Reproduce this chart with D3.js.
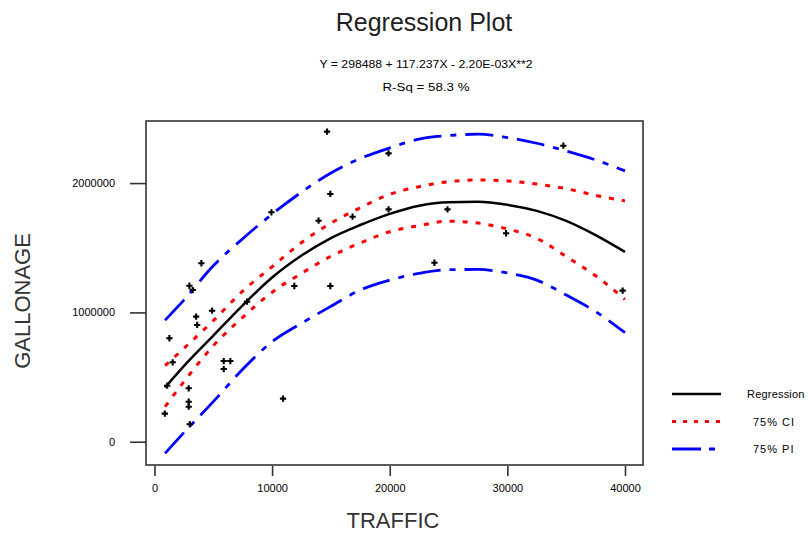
<!DOCTYPE html>
<html>
<head>
<meta charset="utf-8">
<script src="https://cdnjs.cloudflare.com/ajax/libs/d3/7.8.5/d3.min.js"></script>
<style>
body { margin: 0; background: #fff; }
svg { display: block; font-family: "Liberation Sans", Arial, sans-serif; }
</style>
</head>
<body>
<svg id="chart"></svg>
<script>
// scatter data (TRAFFIC vs GALLONAGE)
var traffic = [14670, 19900, 34760, 14950, 9940, 13950, 16840, 19900, 24910, 29890, 23800, 39800,
    3990, 2970, 3250, 11890, 14950, 7870, 4900, 3540, 3630, 1270, 1550, 5890, 6450, 5890,
    1080, 2910, 2910, 2910, 880, 3000, 10930];
var gallonage = [2398000, 2230000, 2289000, 1916000, 1774000, 1709000, 1740000, 1797000, 1797000, 1612000, 1384000, 1168000,
    1380000, 1206000, 1173000, 1204000, 1204000, 1083000, 1013000, 967000, 903000, 800000, 614000, 624000, 624000, 562000,
    433000, 413000, 309000, 271000, 217000, 135000, 333000];

// fitted curve and bands
var fitX = [900, 2500, 5000, 7500, 10000, 12500, 15000, 17500, 20000, 22500, 25000, 27500, 30000, 32500, 35000, 37500, 40000];
var fitY = [420000, 585000, 820000, 1055000, 1270000, 1440000, 1575000, 1676000, 1762000, 1825000, 1852000, 1855000, 1832000, 1785000, 1708000, 1598000, 1468000];
var ciUpper = [588000, 722000, 936000, 1165000, 1353000, 1540000, 1690000, 1810000, 1913000, 1972000, 2011000, 2024000, 2016000, 1992000, 1957000, 1905000, 1862000];
var ciLower = [271000, 464000, 742000, 962000, 1155000, 1302000, 1434000, 1537000, 1624000, 1671000, 1705000, 1691000, 1645000, 1573000, 1431000, 1284000, 1100000];
var piUpper = [940000, 1095000, 1360000, 1570000, 1760000, 1930000, 2078000, 2190000, 2272000, 2340000, 2367000, 2378000, 2352000, 2308000, 2248000, 2179000, 2094000];
var piLower = [-90000, 70000, 310000, 560000, 773000, 916000, 1047000, 1173000, 1250000, 1302000, 1330000, 1332000, 1305000, 1250000, 1134000, 1006000, 843000];

var xTicks = [0, 10000, 20000, 30000, 40000];
var yTicks = [0, 1000000, 2000000];
var legendNames = ["Regression", "75% CI", "75% PI"];

var width = 809, height = 533;
var box = {left: 146, right: 643, top: 121, bottom: 465};

var svg = d3.select("#chart")
    .attr("width", width)
    .attr("height", height);

var xScale = d3.scaleLinear().domain([-720, 41530]).range([box.left, box.right]);
var yScale = d3.scaleLinear().domain([-180000, 2480000]).range([box.bottom, box.top]);

// titles
svg.append("text")
    .attr("x", 424).attr("y", 31)
    .attr("text-anchor", "middle")
    .style("font-size", "25px")
    .attr("fill", "#222")
    .text("Regression Plot");

svg.append("text")
    .attr("x", 426).attr("y", 68)
    .attr("text-anchor", "middle")
    .attr("textLength", 213)
    .attr("lengthAdjust", "spacingAndGlyphs")
    .style("font-size", "10px")
    .text("Y = 298488 + 117.237X - 2.20E-03X**2");

svg.append("text")
    .attr("x", 426).attr("y", 91)
    .attr("text-anchor", "middle")
    .attr("textLength", 87)
    .attr("lengthAdjust", "spacingAndGlyphs")
    .style("font-size", "10px")
    .text("R-Sq = 58.3 %");

// frame
svg.append("rect")
    .attr("x", box.left).attr("y", box.top)
    .attr("width", box.right - box.left)
    .attr("height", box.bottom - box.top)
    .attr("fill", "none")
    .attr("stroke", "#333")
    .attr("stroke-width", 1.6);

// axes
var xAxis = svg.append("g")
    .attr("transform", "translate(0," + (box.bottom + 1) + ")")
    .call(d3.axisBottom(xScale).tickValues(xTicks).tickFormat(d3.format("d")).tickSize(10).tickPadding(8));
var yAxis = svg.append("g")
    .attr("transform", "translate(" + box.left + ",0)")
    .call(d3.axisLeft(yScale).tickValues(yTicks).tickFormat(d3.format("d")).tickSize(16).tickPadding(15));
[xAxis, yAxis].forEach(function (g) {
    g.select(".domain").remove();
    g.selectAll(".tick line").attr("stroke", "#333").attr("stroke-width", 1.6);
    g.selectAll("text")
        .style("font-size", "11px")
        .style("font-family", "'Liberation Sans', Arial, sans-serif")
        .attr("fill", "#000");
});

// axis titles
svg.append("text")
    .attr("x", 393).attr("y", 528)
    .attr("text-anchor", "middle")
    .style("font-size", "22px")
    .attr("fill", "#333")
    .text("TRAFFIC");

svg.append("text")
    .attr("transform", "translate(30,301)rotate(-90)")
    .attr("text-anchor", "middle")
    .style("font-size", "22px")
    .attr("fill", "#333")
    .text("GALLONAGE");

// curves
svg.append("clipPath").attr("id", "plotclip")
    .append("rect")
    .attr("x", box.left).attr("y", box.top)
    .attr("width", box.right - box.left).attr("height", box.bottom - box.top);

var line = d3.line()
    .x(function (d) { return xScale(d[0]); })
    .y(function (d) { return yScale(d[1]); })
    .curve(d3.curveMonotoneX);

function pairs(ys) {
    return fitX.map(function (x, i) { return [x, ys[i]]; });
}

var curves = [
    {data: piUpper, color: "#0000ff", dash: "28,9,6,9", w: 2.8},
    {data: piLower, color: "#0000ff", dash: "28,9,6,9", w: 2.8},
    {data: ciUpper, color: "#ff0000", dash: "5,8", w: 3},
    {data: ciLower, color: "#ff0000", dash: "5,8", w: 3},
    {data: fitY, color: "#000", dash: null, w: 2.5}
];

var plot = svg.append("g").attr("clip-path", "url(#plotclip)");

plot.selectAll(".curve")
    .data(curves)
    .enter().append("path")
    .attr("class", "curve")
    .attr("d", function (d) { return line(pairs(d.data)); })
    .attr("fill", "none")
    .attr("stroke", function (d) { return d.color; })
    .attr("stroke-width", function (d) { return d.w; })
    .attr("stroke-dasharray", function (d) { return d.dash; });

// points
var pts = traffic.map(function (t, i) { return [t, gallonage[i]]; });
plot.selectAll(".pt")
    .data(pts)
    .enter().append("path")
    .attr("class", "pt")
    .attr("transform", function (d) { return "translate(" + xScale(d[0]) + "," + yScale(d[1]) + ")"; })
    .attr("d", d3.symbol().type(d3.symbolCross).size(22))
    .attr("fill", "#000");

// legend
var legend = svg.append("g");
var legendStyles = [curves[4], curves[2], curves[0]];
legendNames.forEach(function (name, i) {
    var yy = 394 + i * 27.5;
    legend.append("line")
        .attr("x1", 672).attr("x2", 721)
        .attr("y1", yy).attr("y2", yy)
        .attr("stroke", legendStyles[i].color)
        .attr("stroke-width", legendStyles[i].w)
        .attr("stroke-dasharray", i == 2 ? "29,8,6,8" : (i == 1 ? "4,7" : null));
    legend.append("text")
        .attr("x", i == 0 ? 747 : 753)
        .attr("y", yy + 4)
        .style("font-size", "11px")
        .style("letter-spacing", i == 0 ? "0.2px" : "1px")
        .attr("fill", "#000")
        .text(name);
});
</script>
</body>
</html>
